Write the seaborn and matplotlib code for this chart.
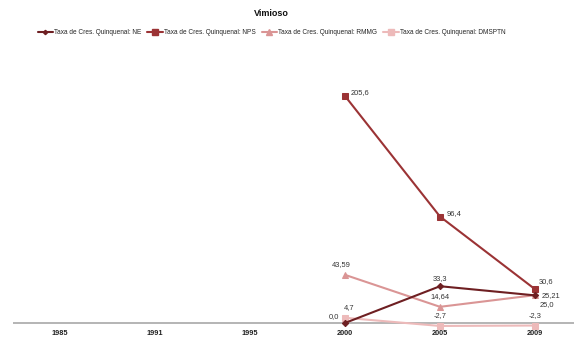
import matplotlib
matplotlib.use("Agg")
import matplotlib.pyplot as plt
import seaborn as sns
import pandas as pd

years = ["1985", "1991", "1995", "2000", "2005", "2009"]
series_names = [
    "Taxa de Cres. Quinquenal: NE",
    "Taxa de Cres. Quinquenal: NPS",
    "Taxa de Cres. Quinquenal: RMMG",
    "Taxa de Cres. Quinquenal: DMSPTN",
]
ne = [None, None, None, 0.0, 33.3, 25.0]
nps = [None, None, None, 205.6, 96.4, 30.6]
rmmg = [None, None, None, 43.59, 14.64, 25.21]
dmsptn = [None, None, None, 4.7, -2.7, -2.3]
label_text = {
    series_names[0]: [None, None, None, "0,0", "33,3", "25,0"],
    series_names[1]: [None, None, None, "205,6", "96,4", "30,6"],
    series_names[2]: [None, None, None, "43,59", "14,64", "25,21"],
    series_names[3]: [None, None, None, "4,7", "-2,7", "-2,3"],
}

colors = ["#6E1F22", "#9B3335", "#DA9595", "#EDBABA"]
markers = ["D", "s", "^", "s"]
marker_sizes = [3.2, 5, 5, 5]

rows = []
for name, vals in zip(series_names, [ne, nps, rmmg, dmsptn]):
    for i, (yr, v) in enumerate(zip(years, vals)):
        if v is not None:
            rows.append({"pos": i, "year": yr, "value": v, "series": name})
df = pd.DataFrame(rows)

sns.set_theme(style="white")
plt.rcParams["font.family"] = ["Liberation Sans", "DejaVu Sans"]

fig = plt.figure(figsize=(5.74, 3.45), dpi=100)
ax = fig.add_axes([12.5 / 574, (345 - 329.6) / 345, 570 / 574, (329.6 - 47) / 345])

# draw in reverse so the darker series sit on top
for name, col, mk, ms in list(zip(series_names, colors, markers, marker_sizes))[::-1]:
    sub = df[df["series"] == name]
    sns.lineplot(data=sub, x="pos", y="value", color=col, marker=mk,
                 markersize=ms, markeredgecolor=col, linewidth=1.5,
                 ax=ax, label=name, legend=False)

ax.axhline(0, color="#A8A8A8", linewidth=1.2, zorder=0)

# value labels
offsets = {
    series_names[0]: [None, None, None, (-4, 2, "right", "bottom"), (0, 3, "center", "bottom"), (3, -4, "left", "top")],
    series_names[1]: [None, None, None, (4, 0, "left", "bottom"), (5, 0, "left", "bottom"), (3, 3, "left", "bottom")],
    series_names[2]: [None, None, None, (-3, 5, "center", "bottom"), (0, 5, "center", "bottom"), (5, 0, "left", "center")],
    series_names[3]: [None, None, None, (3, 5, "center", "bottom"), (0, 5, "center", "bottom"), (0, 5, "center", "bottom")],
}
for name, vals in zip(series_names, [ne, nps, rmmg, dmsptn]):
    for i, v in enumerate(vals):
        if v is None:
            continue
        dx, dy, ha, va = offsets[name][i]
        ax.annotate(label_text[name][i], (i, v), xytext=(dx, dy),
                    textcoords="offset points", ha=ha, va=va,
                    fontsize=5.4, color="#333333")

ax.set_xlim(-0.5, 5.5)
ax.set_ylim(-6, 250)
ax.set_xticks(range(len(years)))
ax.set_xticklabels(years, fontsize=5.3, fontweight="bold", color="#222222")
ax.tick_params(axis="x", length=0, pad=0)
ax.set_yticks([])
ax.set_xlabel("")
ax.set_ylabel("")
for s in ax.spines.values():
    s.set_visible(False)

fig.text(0.473, 1 - 14 / 345, "Vimioso", ha="center", va="center",
         fontsize=6.5, fontweight="bold", color="#111111")

handles, labels = [], []
for name, col, mk, ms in zip(series_names, colors, markers, marker_sizes):
    h, = ax.plot([], [], color=col, marker=mk, markersize=ms - 1,
                 markeredgecolor=col, linewidth=1.5)
    handles.append(h)
    labels.append(name)
fig.legend(handles, labels, loc="center", bbox_to_anchor=(0.473, 1 - 33 / 345),
           ncol=4, frameon=False, fontsize=4.7, handlelength=2.4,
           handletextpad=0.15, columnspacing=0.9, borderaxespad=0)

fig.savefig("out.png", dpi=100)
